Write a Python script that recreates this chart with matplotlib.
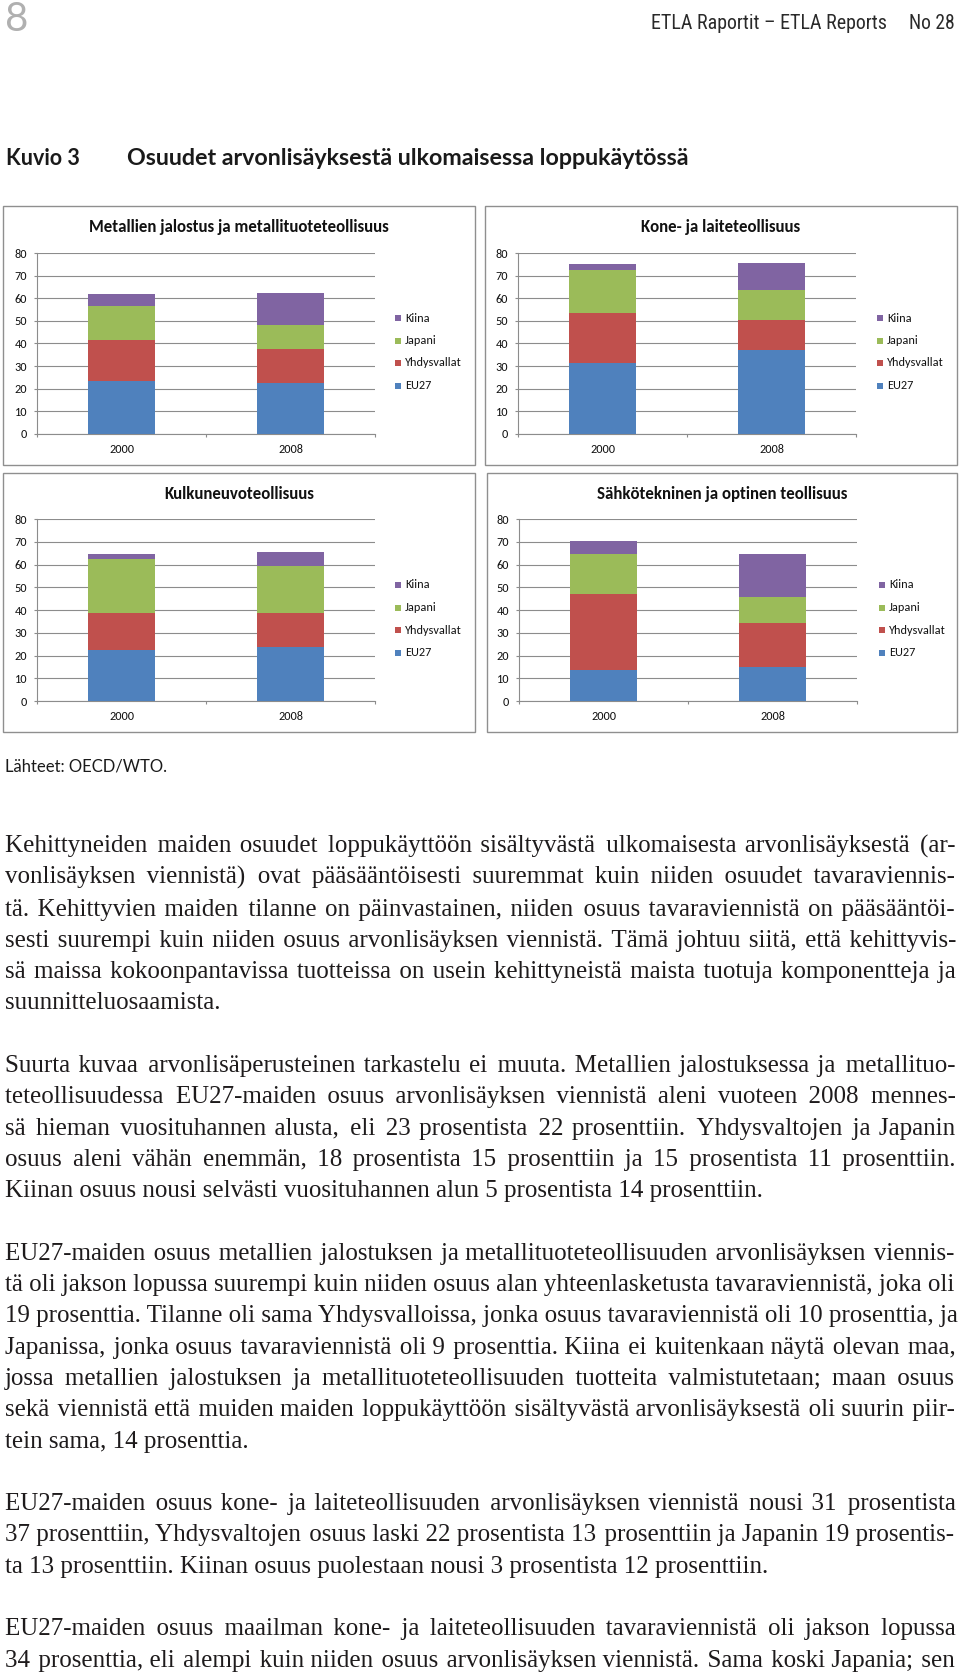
import matplotlib
matplotlib.use("Agg")
import matplotlib.pyplot as plt
from matplotlib import font_manager as fm
from matplotlib.ft2font import FT2Font
from matplotlib.patches import Rectangle
import numpy as np

# ---------------- data ----------------
years = ["2000", "2008"]
series = ["EU27", "Yhdysvallat", "Japani", "Kiina"]
series_colors = ["#4F81BD", "#C0504D", "#9BBB59", "#8064A2"]

titles = ["Metallien jalostus ja metallituoteteollisuus",
          "Kone- ja laiteteollisuus",
          "Kulkuneuvoteollisuus",
          "Sähkötekninen ja optinen teollisuus"]

metal_eu27 = [23.4, 22.5]
metal_usa = [18.2, 14.9]
metal_jpn = [14.8, 10.8]
metal_chn = [5.3, 14.2]

kone_eu27 = [31.3, 37.1]
kone_usa = [22.3, 13.3]
kone_jpn = [18.8, 13.2]
kone_chn = [2.8, 11.9]

kulku_eu27 = [22.3, 23.9]
kulku_usa = [16.6, 14.7]
kulku_jpn = [23.5, 20.6]
kulku_chn = [2.4, 6.3]

sahko_eu27 = [13.7, 15.1]
sahko_usa = [33.3, 19.0]
sahko_jpn = [17.8, 11.7]
sahko_chn = [5.4, 18.8]

yticks = [0, 10, 20, 30, 40, 50, 60, 70, 80]

paragraphs = [
    ["Kehittyneiden maiden osuudet loppukäyttöön sisältyvästä ulkomaisesta arvonlisäyksestä (ar-",
     "vonlisäyksen viennistä) ovat pääsääntöisesti suuremmat kuin niiden osuudet tavaraviennis-",
     "tä. Kehittyvien maiden tilanne on päinvastainen, niiden osuus tavaraviennistä on pääsääntöi-",
     "sesti suurempi kuin niiden osuus arvonlisäyksen viennistä. Tämä johtuu siitä, että kehittyvis-",
     "sä maissa kokoonpantavissa tuotteissa on usein kehittyneistä maista tuotuja komponentteja ja",
     "suunnitteluosaamista."],
    ["Suurta kuvaa arvonlisäperusteinen tarkastelu ei muuta. Metallien jalostuksessa ja metallituo-",
     "teteollisuudessa EU27-maiden osuus arvonlisäyksen viennistä aleni vuoteen 2008 mennes-",
     "sä hieman vuosituhannen alusta, eli 23 prosentista 22 prosenttiin. Yhdysvaltojen ja Japanin",
     "osuus aleni vähän enemmän, 18 prosentista 15 prosenttiin ja 15 prosentista 11 prosenttiin.",
     "Kiinan osuus nousi selvästi vuosituhannen alun 5 prosentista 14 prosenttiin."],
    ["EU27-maiden osuus metallien jalostuksen ja metallituoteteollisuuden arvonlisäyksen viennis-",
     "tä oli jakson lopussa suurempi kuin niiden osuus alan yhteenlasketusta tavaraviennistä, joka oli",
     "19 prosenttia. Tilanne oli sama Yhdysvalloissa, jonka osuus tavaraviennistä oli 10 prosenttia, ja",
     "Japanissa, jonka osuus tavaraviennistä oli 9 prosenttia. Kiina ei kuitenkaan näytä olevan maa,",
     "jossa metallien jalostuksen ja metallituoteteollisuuden tuotteita valmistutetaan; maan osuus",
     "sekä viennistä että muiden maiden loppukäyttöön sisältyvästä arvonlisäyksestä oli suurin piir-",
     "tein sama, 14 prosenttia."],
    ["EU27-maiden osuus kone- ja laiteteollisuuden arvonlisäyksen viennistä nousi 31 prosentista",
     "37 prosenttiin, Yhdysvaltojen osuus laski 22 prosentista 13 prosenttiin ja Japanin 19 prosentis-",
     "ta 13 prosenttiin. Kiinan osuus puolestaan nousi 3 prosentista 12 prosenttiin."],
    ["EU27-maiden osuus maailman kone- ja laiteteollisuuden tavaraviennistä oli jakson lopussa",
     "34 prosenttia, eli alempi kuin niiden osuus arvonlisäyksen viennistä. Sama koski Japania; sen"],
]
last_para_cut = True  # final paragraph continues on next page

# ---------------- fonts ----------------
def available(name):
    try:
        fm.findfont(fm.FontProperties(family=name), fallback_to_default=False)
        return True
    except Exception:
        return False

def pick(*names):
    for n in names:
        if available(n):
            return n
    return "DejaVu Sans"

F_CHART = pick("Carlito", "Lato", "Open Sans")
F_HEAD = pick("Liberation Sans Narrow", "Roboto Condensed", "Lato")
F_TITLE = pick("Lato", "Open Sans")
F_SERIF = pick("Liberation Serif", "DejaVu Serif")

# ---------------- figure ----------------
W, H = 960, 1675
fig = plt.figure(figsize=(W / 100, H / 100), dpi=100)
fig.patch.set_facecolor("white")
renderer = fig.canvas.get_renderer()

def fy(py):
    return 1 - py / H

def fit_text(x0, x1, y_base, s, base_fs, **kw):
    t = fig.text(x0 / W, fy(y_base), s, fontsize=base_fs, va="baseline", ha="left", **kw)
    w = t.get_window_extent(renderer).width
    t.set_fontsize(base_fs * (x1 - x0) / w)
    return t

# page header
fig.text(5 / W, fy(31), "8", fontsize=29, color="#b0b0b0", family=F_TITLE,
         va="baseline", ha="left")
fit_text(651, 886, 29, "ETLA Raportit – ETLA Reports", 13, family=F_HEAD, color="#2a2a2a")
fit_text(909, 955, 29, "No 28", 13, family=F_HEAD, color="#2a2a2a")

# figure title
fit_text(6, 80, 165, "Kuvio 3", 16, family=F_TITLE, fontweight="bold", color="#1a1a1a")
fit_text(127, 694, 165, "Osuudet arvonlisäyksestä ulkomaisessa loppukäytössä", 16,
         family=F_TITLE, fontweight="bold", color="#1a1a1a")

# ---------------- chart panels ----------------
panel_data = [
    [metal_eu27, metal_usa, metal_jpn, metal_chn],
    [kone_eu27, kone_usa, kone_jpn, kone_chn],
    [kulku_eu27, kulku_usa, kulku_jpn, kulku_chn],
    [sahko_eu27, sahko_usa, sahko_jpn, sahko_chn],
]
boxes = [(3, 206, 475, 465), (485, 206, 957, 465), (3, 473, 475, 732), (487, 473, 957, 732)]
axboxes = [(37, 253, 375, 434), (518, 253, 856, 434), (37, 519, 375, 701), (519, 519, 857, 701)]

GRID = "#8c8c8c"
TICK_FS = 8.8
for k in range(4):
    bx0, by0, bx1, by1 = boxes[k]
    fig.patches.append(Rectangle((bx0 / W, fy(by1)), (bx1 - bx0) / W, (by1 - by0) / H,
                                 transform=fig.transFigure, fill=False,
                                 ec="#8f8f8f", lw=1.0))
    ax0, ay0, ax1, ay1 = axboxes[k]
    ax = fig.add_axes([ax0 / W, fy(ay1), (ax1 - ax0) / W, (ay1 - ay0) / H])
    ax.set_facecolor("none")
    x = np.arange(len(years))
    bottom = np.zeros(len(years))
    for vals, c in zip(panel_data[k], series_colors):
        v = np.array(vals)
        ax.bar(x, v, width=0.4, bottom=bottom, color=c, edgecolor="none", zorder=3)
        bottom += v
    ax.set_xlim(-0.5, 1.5)
    ax.set_ylim(0, 80)
    ax.set_yticks(yticks)
    ax.set_yticklabels([str(t) for t in yticks])
    ax.yaxis.grid(True, color=GRID, lw=0.8)
    ax.set_axisbelow(True)
    for s in ["top", "right"]:
        ax.spines[s].set_visible(False)
    for s in ["left", "bottom"]:
        ax.spines[s].set_color(GRID)
        ax.spines[s].set_linewidth(0.8)
    ax.set_xticks([-0.5, 0.5, 1.5])
    ax.set_xticklabels(["", "", ""])
    ax.set_xticks(x, minor=True)
    ax.set_xticklabels(years, minor=True)
    ax.tick_params(axis="x", which="major", length=2.2, color=GRID, width=0.8)
    ax.tick_params(axis="x", which="minor", length=0, pad=7.3, labelsize=TICK_FS)
    ax.tick_params(axis="y", length=2.2, color=GRID, width=0.8, pad=5, labelsize=TICK_FS)
    for lab in ax.get_xticklabels(minor=True) + ax.get_yticklabels():
        lab.set_family(F_CHART)
        lab.set_color("#111111")

    # panel title
    fig.text(((bx0 + bx1) / 2) / W, fy(by0 + 21), titles[k], fontsize=12.2,
             fontweight="bold", family=F_CHART, ha="center", va="center", color="#111111")

    # legend (top entry = last series)
    for j, idx in enumerate(range(len(series) - 1, -1, -1)):
        yc = by0 + 112 + 22.5 * j
        fig.patches.append(Rectangle(((bx0 + 392) / W, fy(yc + 3)), 6 / W, 6 / H,
                                     transform=fig.transFigure, fc=series_colors[idx],
                                     ec="none"))
        fig.text((bx0 + 402) / W, fy(yc), series[idx], fontsize=TICK_FS, family=F_CHART,
                 ha="left", va="center", color="#111111")

# source
fit_text(5, 168, 771, "Lähteet: OECD/WTO.", 12.5, family=F_TITLE, color="#1a1a1a")

# ---------------- body text (justified, one Text per line) ----------------
BODY_FS = 18
X0, X1 = 5, 955
TEXT_COL = "#1e1b1c"

def tw(s):
    t = fig.text(0, 0, s, fontsize=BODY_FS, family=F_SERIF)
    w = t.get_window_extent(renderer).width
    t.remove()
    return w

serif_path = fm.findfont(fm.FontProperties(family=F_SERIF))
ftf = FT2Font(serif_path)
space_cands = ["\u2003", "\u2002", "\u2004", "\u2005", "\u2006", "\u2009", "\u200A"]
avail_sp = [c for c in space_cands if ftf.get_char_index(ord(c)) != 0]
base_aa = tw("aa")
sp_w = {c: tw("a" + c + "a") - base_aa for c in [" "] + avail_sp}
sizes = sorted([(sp_w[c], c) for c in avail_sp if sp_w[c] > 0.3], reverse=True)

def justified_string(words):
    n = len(words) - 1
    natural = tw(" ".join(words))
    extra = (X1 - X0) - natural
    if n <= 0 or extra <= 0 or not sizes:
        return " ".join(words)
    smallest = sizes[-1][0]
    acc_target = 0.0
    acc = 0.0
    out = words[0]
    for i in range(n):
        acc_target += extra / n
        need = acc_target - acc
        add = ""
        for w, c in sizes:
            while need >= w - smallest / 2:
                add += c
                need -= w
                acc += w
        out += " " + add + words[i + 1]
    return out

def draw_line(line, y_base, justify):
    words = line.split(" ")
    s = justified_string(words) if justify else line
    fig.text(X0 / W, fy(y_base), s, fontsize=BODY_FS, family=F_SERIF,
             va="baseline", ha="left", color=TEXT_COL)

line_idx = 0
for p_i, para in enumerate(paragraphs):
    for l_i, line in enumerate(para):
        is_last = l_i == len(para) - 1
        justify = (not is_last) or (p_i == len(paragraphs) - 1 and last_para_cut)
        draw_line(line, round(853 + 31.29 * line_idx), justify)
        line_idx += 1
    line_idx += 1

fig.savefig("out.png", dpi=100, facecolor="white")
